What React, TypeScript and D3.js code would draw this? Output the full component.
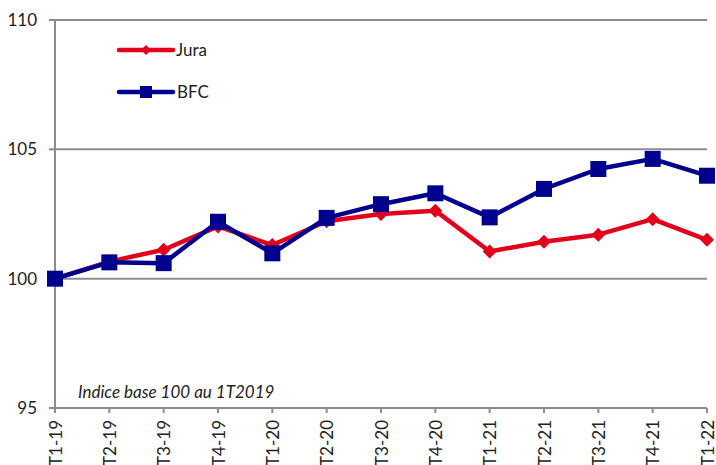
import React from "react";
import * as d3 from "d3";

const quarters = ["T1-19", "T2-19", "T3-19", "T4-19", "T1-20", "T2-20", "T3-20", "T4-20", "T1-21", "T2-21", "T3-21", "T4-21", "T1-22"];
const jura = [100, 100.66, 101.12, 102.02, 101.3, 102.22, 102.5, 102.63, 101.05, 101.43, 101.7, 102.3, 101.5];
const bfc = [100, 100.63, 100.6, 102.2, 100.98, 102.35, 102.88, 103.3, 102.37, 103.47, 104.24, 104.63, 103.98];
const yTicks = [95, 100, 105, 110];

const W = 716;
const H = 465;
const left = 55;
const right = 707;
const top = 20;
const bottom = 408;
const font = "Lato, 'Open Sans', sans-serif";
const axisColor = "#8c8c8c";
const red = "#e2001a";
const blue = "#00008f";

// rotated square marker
const diamondPath = (r: number) => `M0,${-r}L${r},0L0,${r}L${-r},0Z`;

const App = () => {
  const x = d3.scalePoint().domain(quarters).range([left, right]);
  const y = d3.scaleLinear().domain([95, 110]).range([bottom, top]);

  const line = d3.line<number>()
    .x((d, i) => x(quarters[i])!)
    .y(d => y(d));

  return (
    <div style={{ position: "absolute", left: 0, top: 0 }}>
      <svg width={W} height={H} style={{ display: "block", background: "#fff" }}>
        {/* grid lines */}
        {yTicks.filter(t => t !== 95).map(t => (
          <line key={t} x1={left} x2={right} y1={y(t)} y2={y(t)} stroke={axisColor} strokeWidth={2} />
        ))}
        {/* axes */}
        <line x1={left} x2={left} y1={top} y2={bottom} stroke={axisColor} strokeWidth={2} />
        <line x1={left} x2={right} y1={bottom} y2={bottom} stroke={axisColor} strokeWidth={2} />
        {yTicks.map(t => (
          <g key={t}>
            <line x1={left - 6} x2={left} y1={y(t)} y2={y(t)} stroke={axisColor} strokeWidth={2} />
            <text x={37} y={y(t)} dy="0.35em" textAnchor="end" fontFamily={font} fontSize={17} fill="#222">{t}</text>
          </g>
        ))}
        {quarters.map(q => (
          <g key={q}>
            <line x1={x(q)} x2={x(q)} y1={bottom} y2={bottom + 5} stroke={axisColor} strokeWidth={2} />
            <text
              transform={`translate(${x(q)! + 6.5},${bottom + 12}) rotate(-90)`}
              textAnchor="end"
              fontFamily={font}
              fontSize={17}
              fill="#222"
            >{q}</text>
          </g>
        ))}

        {/* series */}
        <path d={line(jura)!} fill="none" stroke={red} strokeWidth={4.5} strokeLinejoin="round" />
        {jura.map((v, i) => (
          <path key={i} d={diamondPath(7)} transform={`translate(${x(quarters[i])},${y(v)})`} fill={red} />
        ))}
        <path d={line(bfc)!} fill="none" stroke={blue} strokeWidth={4.5} strokeLinejoin="round" />
        {bfc.map((v, i) => (
          <rect key={i} x={x(quarters[i])! - 8} y={y(v) - 8} width={16} height={16} fill={blue} />
        ))}

        {/* legend */}
        <line x1={119} x2={173} y1={50} y2={50} stroke={red} strokeWidth={4.5} strokeLinecap="round" />
        <path d={diamondPath(5)} transform="translate(146,50)" fill={red} />
        <text x={176} y={50} dy="0.35em" fontFamily={font} fontSize={17} fill="#222">Jura</text>
        <line x1={119} x2={173} y1={92} y2={92} stroke={blue} strokeWidth={4.5} strokeLinecap="round" />
        <rect x={140} y={86} width={12} height={12} fill={blue} />
        <text x={177} y={92} dy="0.35em" fontFamily={font} fontSize={17} fill="#222">BFC</text>

        <text x={78} y={398} fontFamily={font} fontStyle="italic" fontSize={17} fill="#222">Indice base 100 au 1T2019</text>
      </svg>
    </div>
  );
};

export default App;
